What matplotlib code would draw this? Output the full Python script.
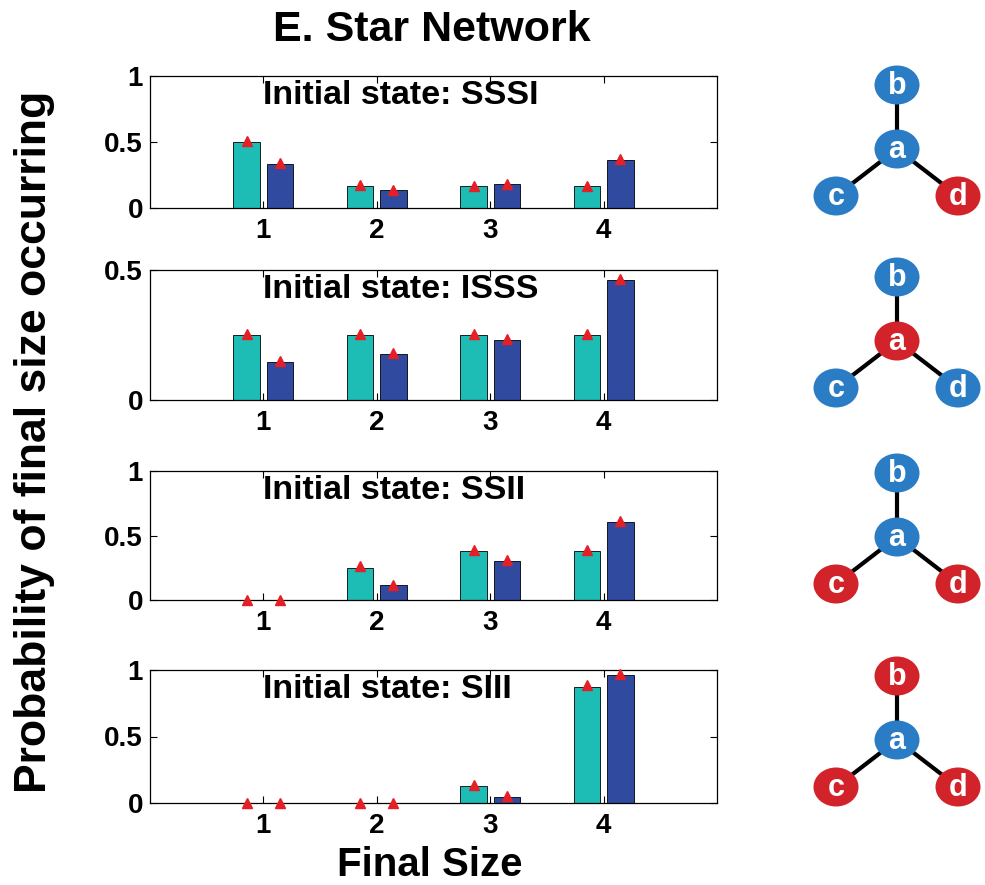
import matplotlib
matplotlib.use('Agg')
import matplotlib.pyplot as plt
from matplotlib.patches import Ellipse

plt.rcParams['font.family'] = ['Liberation Sans', 'DejaVu Sans']
plt.rcParams['font.weight'] = 'bold'

# data
sizes = [1, 2, 3, 4]
states = ['SSSI', 'ISSS', 'SSII', 'SIII']
ymax = [1, 0.5, 1, 1]
yticks = [[0, 0.5, 1], [0, 0.5], [0, 0.5, 1], [0, 0.5, 1]]
ytick_labels = [['0', '0.5', '1'], ['0', '0.5'], ['0', '0.5', '1'], ['0', '0.5', '1']]

# cyan bars and blue bars
cyan_vals = [
    [0.50, 0.17, 0.17, 0.17],
    [0.25, 0.25, 0.25, 0.25],
    [0.00, 0.25, 0.38, 0.38],
    [0.00, 0.00, 0.13, 0.875],
]
blue_vals = [
    [0.33, 0.135, 0.18, 0.36],
    [0.146, 0.177, 0.232, 0.46],
    [0.00, 0.113, 0.305, 0.605],
    [0.00, 0.00, 0.045, 0.962],
]
# red triangle markers
cyan_tri = [
    [0.51, 0.175, 0.17, 0.17],
    [0.255, 0.255, 0.255, 0.255],
    [0.00, 0.265, 0.385, 0.385],
    [0.00, 0.00, 0.135, 0.885],
]
blue_tri = [
    [0.34, 0.14, 0.185, 0.37],
    [0.15, 0.18, 0.235, 0.465],
    [0.00, 0.12, 0.31, 0.61],
    [0.00, 0.00, 0.05, 0.97],
]

# network node colours per panel, node order a, b, c, d
node_names = ['a', 'b', 'c', 'd']
infected = [
    [False, False, False, True],
    [True, False, False, False],
    [False, False, True, True],
    [False, True, True, True],
]

cyan = '#1dbdb6'
blue = '#2f4a9f'
red_mark = '#e41f26'
node_blue = '#2a7cc4'
node_red = '#d2232a'

W, H = 985, 885
fig = plt.figure(figsize=(W / 100, H / 100), dpi=100)

# panel boxes in pixels (top, bottom)
boxes = [(76, 208), (270, 400), (471, 600), (670, 803)]
left, right = 150, 717
offset = 0.147

for i in range(4):
    top, bot = boxes[i]
    ax = fig.add_axes([left / W, 1 - bot / H, (right - left) / W, (bot - top) / H])
    xs = [s - offset for s in sizes]
    xb = [s + offset for s in sizes]
    ax.bar(xs, cyan_vals[i], width=0.235, color=cyan, edgecolor='black', linewidth=0.6, zorder=2)
    ax.bar(xb, blue_vals[i], width=0.235, color=blue, edgecolor='black', linewidth=0.6, zorder=2)
    ax.plot(xs, cyan_tri[i], '^', color=red_mark, markersize=7, clip_on=False, zorder=4)
    ax.plot(xb, blue_tri[i], '^', color=red_mark, markersize=7, clip_on=False, zorder=4)
    ax.set_xlim(0, 5)
    ax.set_ylim(0, ymax[i])
    ax.set_xticks(sizes)
    ax.set_xticklabels([str(s) for s in sizes], fontsize=20, fontweight='bold')
    ax.set_yticks(yticks[i])
    ax.set_yticklabels(ytick_labels[i], fontsize=20, fontweight='bold')
    ax.tick_params(direction='in', top=True, right=True, length=5, width=0.8, pad=5)
    ax.tick_params(axis='x', pad=7)
    for sp in ax.spines.values():
        sp.set_linewidth(0.9)
    ax.text(0.2, 0.85, 'Initial state: ' + states[i], transform=ax.transAxes,
            fontsize=24.5, fontweight='bold', ha='left', va='center')

fig.text(432 / W, 1 - 30 / H, 'E. Star Network', fontsize=31, fontweight='bold',
         ha='center', va='center')
fig.text(430 / W, 1 - 884 / H, 'Final Size', fontsize=29, fontweight='bold',
         ha='center', va='bottom')
fig.text(35 / W, 1 - 442 / H, 'Probability of final size occurring', fontsize=32,
         fontweight='bold', rotation=90, ha='center', va='center')

# star networks drawn in pixel coordinates
net = fig.add_axes([0, 0, 1, 1])
net.set_xlim(0, W)
net.set_ylim(H, 0)
net.axis('off')
net.patch.set_alpha(0)

centres_y = [149, 341, 537, 740]
node_dx = [0, 0, -61, 61]
node_dy = [0, -64, 47, 47]
cx = 897
for i in range(4):
    cy = centres_y[i]
    for k in [1, 2, 3]:
        net.plot([cx, cx + node_dx[k]], [cy, cy + node_dy[k]], color='black', lw=3, zorder=1)
    for k in range(4):
        x = cx + node_dx[k]
        y = cy + node_dy[k]
        col = node_red if infected[i][k] else node_blue
        net.add_patch(Ellipse((x, y), 45, 39, facecolor=col, edgecolor='none', zorder=2))
        net.text(x, y + 1, node_names[k], color='white', fontsize=22, fontweight='bold',
                 ha='center', va='center', zorder=3)

fig.savefig('out.png', dpi=100)
